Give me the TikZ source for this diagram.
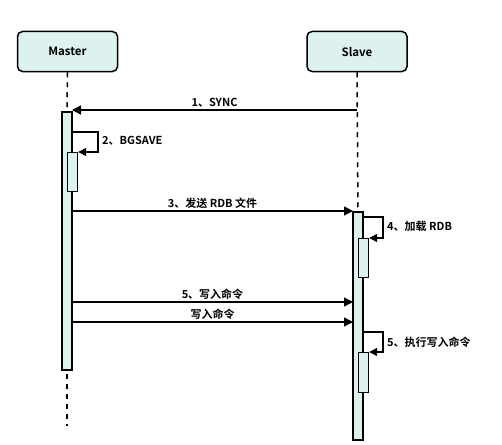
\documentclass[tikz,border=0pt]{standalone}
\usepackage{fontspec}
\setmainfont{Noto Sans CJK SC}[BoldFont={* Bold}]
\usetikzlibrary{arrows.meta}
\definecolor{boxfill}{HTML}{DDF2EF}
\tikzset{
  actor/.style={draw=black, line width=1.5pt, fill=boxfill, rounded corners=5pt, minimum width=100pt, minimum height=40pt, font=\bfseries\fontsize{11.5}{13}\selectfont},
  bar/.style={draw=black, line width=1.2pt, fill=boxfill},
  life/.style={line width=1.5pt, dash pattern=on 5pt off 5pt},
  msg/.style={line width=1.5pt, -{Triangle[length=9pt,width=9pt]}},
  selfmsg/.style={line width=1.3pt, -{Triangle[length=8pt,width=8pt]}},
  lbl/.style={font=\bfseries\fontsize{11}{13}\selectfont, inner sep=1pt}
}
\begin{document}
\begin{tikzpicture}[x=1pt,y=-1pt]
\useasboundingbox (0,0) rectangle (502,444);
\fill[white] (0,0) rectangle (502,444);
% actors
\node[actor] (master) at (67.5,51.5) {Master};
\node[actor] (slave) at (357,51.5) {Slave};
% lifelines
\coordinate (mEnd) at (67,426);
\coordinate (sEnd) at (358,212);
\draw[life] (master.south) -- (67,112);
\draw[life] (67,374) -- (mEnd);
\draw[life] (slave.south) -- (sEnd);
% activation bars
\draw[bar] (62,112) rectangle (72,370);
\node[bar, minimum width=10pt, minimum height=39pt, inner sep=0pt, anchor=north west] (mb2) at (67,152) {};
\draw[bar] (353,212) rectangle (363,440);
\node[bar, minimum width=10pt, minimum height=39pt, inner sep=0pt, anchor=north west] (sb2) at (358,238) {};
\node[bar, minimum width=10pt, minimum height=40pt, inner sep=0pt, anchor=north west] (sb3) at (358,352) {};
% coordinates on bars
\coordinate (mR110) at (72,110);
\coordinate (sS110) at (357,110);
% messages
\draw[msg] (sS110) -- node[lbl, above=1pt] {1、SYNC} (mR110);
\draw[selfmsg] (72,132) -- (98,132) -- (98,152) -- (mb2.north east);
\node[lbl, anchor=west] at (101,141) {2、BGSAVE};
\draw[msg] (72,211) -- node[lbl, above=1pt] {3、发送 RDB 文件} (353,211);
\draw[selfmsg] (363,217) -- (383,217) -- (383,238) -- (sb2.north east);
\node[lbl, anchor=west] at (386,226) {4、加载 RDB};
\draw[msg] (72,302) -- node[lbl, above=1pt] {5、写入命令} (353,302);
\draw[msg] (72,322) -- node[lbl, above=1pt] {写入命令} (353,322);
\draw[selfmsg] (363,332) -- (383,332) -- (383,352) -- (sb3.north east);
\node[lbl, anchor=west] at (386,342) {5、执行写入命令};
\end{tikzpicture}
\end{document}
